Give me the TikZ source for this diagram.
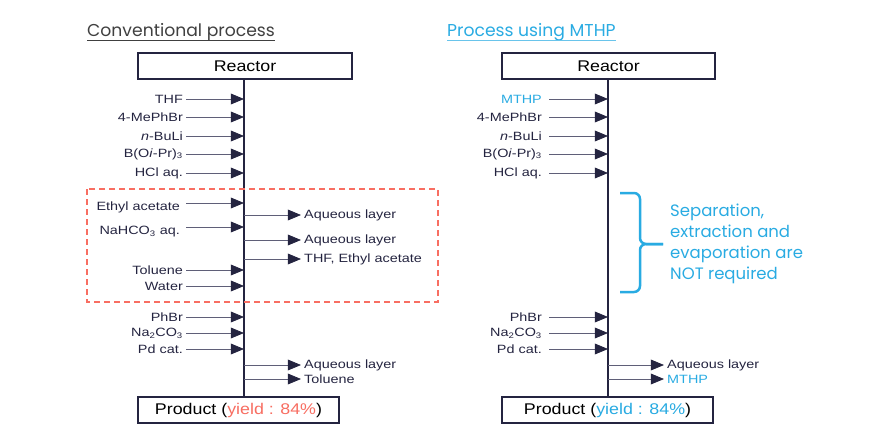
\documentclass[tikz,border=0pt]{standalone}
\usepackage{fontspec}
\setmainfont{Liberation Sans}[FakeStretch=1.2]
\newfontfamily\headfont{Poppins}
\newfontfamily\boxfont{Liberation Sans}[FakeStretch=1.15]
\usetikzlibrary{arrows.meta,positioning,calc}
\definecolor{mthpblue}{RGB}{41,171,226}
\definecolor{convred}{RGB}{248,110,98}
\definecolor{flownavy}{RGB}{36,36,64}
\definecolor{feedgray}{RGB}{95,95,120}
\tikzset{
  unit/.style={draw=flownavy, line width=1.4pt, fill=white, minimum height=26pt, inner sep=0pt, font=\boxfont\fontsize{15.5}{18}\selectfont},
  chem/.style={inner sep=3pt, text=flownavy, font=\fontsize{12}{13}\selectfont},
  feed/.style={draw=feedgray, line width=0.8pt, -{Triangle[length=11pt,width=9pt,color=flownavy,scale=1.2]}},
  stream/.style={draw=flownavy, line width=2pt},
  title/.style={inner sep=0pt, font=\headfont\fontsize{17.2}{20}\selectfont},
  sepbox/.style={draw=convred, line width=1.3pt, dash pattern=on 6pt off 4pt},
  bracket/.style={draw=mthpblue, line width=2.5pt, rounded corners=6pt},
  note/.style={inner sep=2pt, align=left, text=mthpblue, font=\headfont\fontsize{16.5}{21}\selectfont}
}

\begin{document}
\begin{tikzpicture}[x=1pt, y=-1pt]
  \useasboundingbox (0,0) rectangle (870,428);

  % conventional process
  \node[title, text=black!75, anchor=base west] (titleL) at (87,37) {Conventional process};
  \draw[black!75, line width=0.8pt] ([yshift=-3.5pt]titleL.base west) -- ([yshift=-3.5pt]titleL.base east);

  \node[unit, minimum width=214pt] (reacL) at (245,66) {Reactor};
  \node[unit, minimum width=201pt] (prodL) at (238.5,410) {Product (\textcolor{convred}{yield : 84\%})};
  \coordinate (lineL) at (244,0);
  \draw[stream] (reacL.south -| lineL) -- (prodL.north -| lineL);

  \node[chem, anchor=east] (thfL) at (186,99) {THF};
  \node[chem, anchor=east] (mephL) at (186,117) {4-MePhBr};
  \node[chem, anchor=east] (buliL) at (186,136) {\textit{n}-BuLi};
  \node[chem, anchor=east] (boraL) at (186,154) {B(O\textit{i}-Pr)\textsubscript{3}};
  \node[chem, anchor=east] (hclL) at (186,173) {HCl aq.};
  \draw[feed] (thfL) -- (thfL -| lineL);
  \draw[feed] (mephL) -- (mephL -| lineL);
  \draw[feed] (buliL) -- (buliL -| lineL);
  \draw[feed] (boraL) -- (boraL -| lineL);
  \draw[feed] (hclL) -- (hclL -| lineL);

  % work-up
  \draw[sepbox] (87,189) rectangle (438,302);
  \node[chem, anchor=east] (etacL) at (183,207) {Ethyl acetate};
  \node[chem, anchor=east] (nahcL) at (183,232) {NaHCO\textsubscript{3} aq.};
  \node[chem, anchor=east] (tolL) at (186,270) {Toluene};
  \node[chem, anchor=east] (waterL) at (186,286) {Water};
  \draw[feed] ([shift={(3pt,4pt)}]etacL.east) -- ([yshift=4pt]etacL.east -| lineL);
  \draw[feed] ([shift={(3pt,5pt)}]nahcL.east) -- ([yshift=5pt]nahcL.east -| lineL);
  \draw[feed] (tolL) -- (tolL -| lineL);
  \draw[feed] (waterL) -- (waterL -| lineL);

  \node[chem, anchor=west] (aq1L) at (301,215) {Aqueous layer};
  \node[chem, anchor=west] (aq2L) at (301,240) {Aqueous layer};
  \node[chem, anchor=west] (solvL) at (301,259) {THF, Ethyl acetate};
  \draw[feed] (aq1L -| lineL) -- (aq1L);
  \draw[feed] (aq2L -| lineL) -- (aq2L);
  \draw[feed] (solvL -| lineL) -- (solvL);

  % coupling
  \node[chem, anchor=east] (phbrL) at (186,317) {PhBr};
  \node[chem, anchor=east] (carbL) at (186,333) {Na\textsubscript{2}CO\textsubscript{3}};
  \node[chem, anchor=east] (pdL) at (186,349) {Pd cat.};
  \draw[feed] (phbrL) -- (phbrL -| lineL);
  \draw[feed] (carbL) -- (carbL -| lineL);
  \draw[feed] (pdL) -- (pdL -| lineL);

  \node[chem, anchor=west] (aq3L) at (301,365) {Aqueous layer};
  \node[chem, anchor=west] (tol2L) at (301,379) {Toluene};
  \draw[feed] (aq3L -| lineL) -- (aq3L);
  \draw[feed] (tol2L -| lineL) -- (tol2L);

  % process using MTHP
  \node[title, text=mthpblue, anchor=base west] (titleR) at (447,37) {Process using MTHP};
  \draw[mthpblue!70, line width=0.8pt] ([yshift=-3.5pt]titleR.base west) -- ([yshift=-3.5pt]titleR.base east);

  \node[unit, minimum width=213pt] (reacR) at (608.5,66) {Reactor};
  \node[unit, minimum width=211pt] (prodR) at (607.5,410) {Product (\textcolor{mthpblue}{yield : 84\%})};
  \coordinate (lineR) at (608,0);
  \draw[stream] (reacR.south -| lineR) -- (prodR.north -| lineR);

  \node[chem, anchor=east, text=mthpblue] (mthpR) at (545,99) {MTHP};
  \node[chem, anchor=east] (mephR) at (545,117) {4-MePhBr};
  \node[chem, anchor=east] (buliR) at (545,136) {\textit{n}-BuLi};
  \node[chem, anchor=east] (boraR) at (545,154) {B(O\textit{i}-Pr)\textsubscript{3}};
  \node[chem, anchor=east] (hclR) at (545,173) {HCl aq.};
  \draw[feed] ([xshift=4pt]mthpR.east) -- (mthpR -| lineR);
  \draw[feed] ([xshift=4pt]mephR.east) -- (mephR -| lineR);
  \draw[feed] ([xshift=4pt]buliR.east) -- (buliR -| lineR);
  \draw[feed] ([xshift=4pt]boraR.east) -- (boraR -| lineR);
  \draw[feed] ([xshift=4pt]hclR.east) -- (hclR -| lineR);

  \draw[bracket] (620,193) -- (640,193) -- (640,244) -- (663,244);
  \draw[bracket] (663,244) -- (640,244) -- (640,292) -- (620,292);
  \node[note, anchor=west] (noteR) at (668,244) {Separation,\\extraction and\\evaporation are\\NOT required};

  \node[chem, anchor=east] (phbrR) at (545,317) {PhBr};
  \node[chem, anchor=east] (carbR) at (545,333) {Na\textsubscript{2}CO\textsubscript{3}};
  \node[chem, anchor=east] (pdR) at (545,349) {Pd cat.};
  \draw[feed] ([xshift=4pt]phbrR.east) -- (phbrR -| lineR);
  \draw[feed] ([xshift=4pt]carbR.east) -- (carbR -| lineR);
  \draw[feed] ([xshift=4pt]pdR.east) -- (pdR -| lineR);

  \node[chem, anchor=west] (aq3R) at (664,365) {Aqueous layer};
  \node[chem, anchor=west, text=mthpblue] (mthp2R) at (664,379) {MTHP};
  \draw[feed] (aq3R -| lineR) -- (aq3R);
  \draw[feed] (mthp2R -| lineR) -- (mthp2R);
\end{tikzpicture}
\end{document}
